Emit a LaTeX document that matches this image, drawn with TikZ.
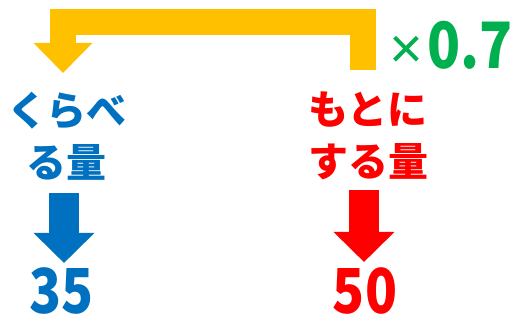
\documentclass[tikz,border=0pt]{standalone}
\usepackage{fontspec}
\newfontfamily\jp{Noto Sans CJK JP}
\newfontfamily\jpnum{Noto Sans CJK JP}[FakeStretch=0.85]
\newfontfamily\symfont{Liberation Sans}
\usetikzlibrary{arrows.meta}
\definecolor{cblue}{HTML}{0070C0}
\definecolor{cred}{HTML}{FF0000}
\definecolor{cyellow}{HTML}{FFC000}
\definecolor{cgreen}{HTML}{00B050}

\begin{document}
\begin{tikzpicture}[x=1pt,y=-1pt,
    jplabel/.style={font=\jp\bfseries\fontsize{40}{52}\selectfont, align=center, inner sep=0pt},
    numlabel/.style={font=\jpnum\bfseries\fontsize{62}{62}\selectfont, inner sep=0pt},
    downarrow/.style={line width=30pt, -{Triangle[length=30pt,width=59pt]}}]
        \useasboundingbox (0,0) rectangle (528,326);
        % Labels
        \node[jplabel, text=cblue] (kuraberu) at (67,136) {くらべ\\る量};
        \node[jplabel, text=cred] (motoni) at (368,136) {もとに\\する量};
        % Values
        \node[numlabel, text=cblue] (val35) at (61.5,290.5) {35};
        \node[numlabel, text=cred] (val50) at (365,290.5) {50};
        % Rate
        \node[font=\jpnum\bfseries\fontsize{64}{64}\selectfont, text=cgreen, inner sep=0pt] (rate) at (451,45)
            {{\symfont\mdseries\fontsize{58}{58}\selectfont ×}\hspace{4pt}0.7};
        % Arrow ends
        \coordinate (rateStart) at (362.5,70);
        \coordinate (rateEnd) at (63,73);
        \coordinate (blueStart) at (64,193);
        \coordinate (blueEnd) at (64,263);
        \coordinate (redStart) at (364,190);
        \coordinate (redEnd) at (364,262);
        % Arrows
        \draw[cyellow, line width=26pt, -{Triangle[length=30pt,width=57pt]}]
            (rateStart) |- (63,22) -- (rateEnd);
        \draw[downarrow, cblue] (blueStart) -- (blueEnd);
        \draw[downarrow, cred] (redStart) -- (redEnd);
\end{tikzpicture}
\end{document}
